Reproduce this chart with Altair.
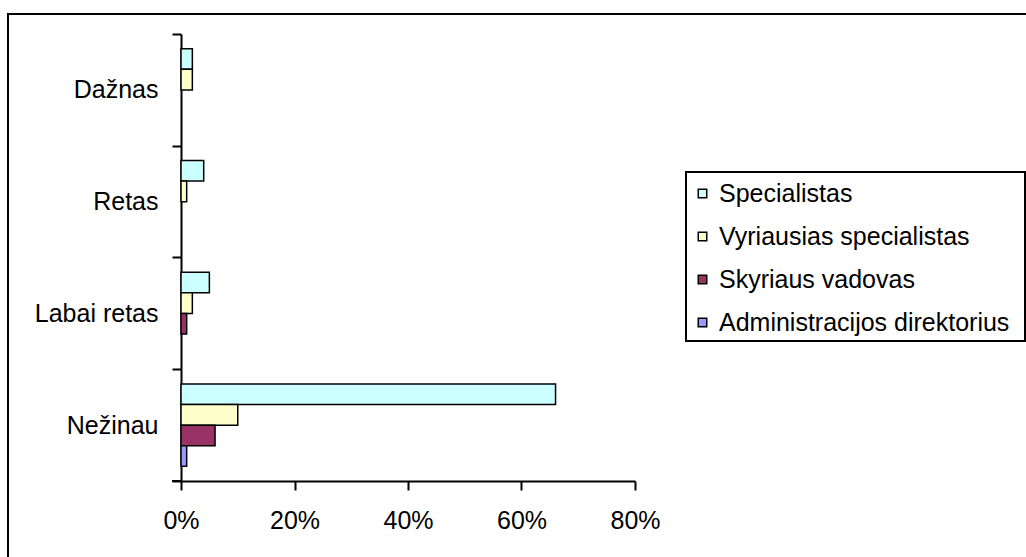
import altair as alt
import pandas as pd

# Answer categories (top to bottom) and respondent groups
categories = ["Dažnas", "Retas", "Labai retas", "Nežinau"]
series = [
    "Specialistas",
    "Vyriausias specialistas",
    "Skyriaus vadovas",
    "Administracijos direktorius",
]
colors = ["#CCFFFF", "#FFFFCC", "#993366", "#9999FF"]

# Share of answers in percent, listed in category order
specialistas = [2, 4, 5, 66]
vyriausias_specialistas = [2, 1, 2, 10]
skyriaus_vadovas = [0, 0, 1, 6]
administracijos_direktorius = [0, 0, 0, 1]

x_ticks = [0, 0.2, 0.4, 0.6, 0.8]

rows = []
for name, vals in zip(
    series,
    [specialistas, vyriausias_specialistas, skyriaus_vadovas, administracijos_direktorius],
):
    for cat, v in zip(categories, vals):
        rows.append({"kategorija": cat, "pareigos": name, "dalis": v / 100})
df = pd.DataFrame(rows)

W, H = 454, 447
FONT = "Liberation Sans"

bars = (
    alt.Chart(df)
    .transform_filter("datum.dalis > 0")
    .mark_bar(stroke="black", strokeWidth=1.5)
    .encode(
        x=alt.X(
            "dalis:Q",
            scale=alt.Scale(domain=[0, 0.8], nice=False, zero=True),
            axis=alt.Axis(
                values=x_ticks,
                format="%",
                title=None,
                grid=False,
                tickSize=9,
                tickWidth=2,
                tickColor="black",
                domainWidth=2,
                domainColor="black",
                labelFont=FONT,
                labelFontSize=25,
                labelColor="black",
                labelPadding=18,
                labelFlush=False,
            ),
        ),
        # near-full-width category bands: the band edges become the tick positions
        y=alt.Y(
            "kategorija:N",
            sort=categories,
            scale=alt.Scale(domain=categories, paddingInner=0.002, paddingOuter=0.001),
            axis=alt.Axis(
                title=None,
                tickBand="extent",
                tickSize=9,
                tickWidth=2,
                tickColor="black",
                domainWidth=2,
                domainColor="black",
                labelFont=FONT,
                labelFontSize=25,
                labelColor="black",
                labelPadding=14,
            ),
        ),
        # the gap around each group of bars comes from the offset scale
        yOffset=alt.YOffset(
            "pareigos:N",
            sort=series,
            scale=alt.Scale(domain=series, paddingInner=0, paddingOuter=0.72),
        ),
        fill=alt.Fill(
            "pareigos:N",
            sort=series,
            scale=alt.Scale(domain=series, range=colors),
            legend=alt.Legend(
                title=None,
                orient="none",
                legendX=509,
                legendY=147,
                padding=0,
                symbolType="square",
                symbolSize=72,
                symbolStrokeColor="black",
                symbolStrokeWidth=1.5,
                labelFont=FONT,
                labelFontSize=25,
                labelColor="black",
                labelOffset=4,
                labelLimit=0,
                rowPadding=17,
            ),
        ),
    )
)

# Outer chart border and the legend box
frame = (
    alt.Chart(alt.Data(values=[{}]))
    .mark_rect(fill="white", fillOpacity=0, stroke="black", strokeWidth=2)
    .encode(x=alt.value(-173), x2=alt.value(849), y=alt.value(-20), y2=alt.value(526))
)
legend_box = (
    alt.Chart(alt.Data(values=[{}]))
    .mark_rect(fill="white", fillOpacity=0, stroke="black", strokeWidth=2)
    .encode(x=alt.value(505), x2=alt.value(844), y=alt.value(138), y2=alt.value(307))
)
# Category axis line continues a tick's length past the value axis origin
axis_stub = (
    alt.Chart(alt.Data(values=[{}]))
    .mark_rule(stroke="black", strokeWidth=2)
    .encode(x=alt.value(-9), x2=alt.value(0), y=alt.value(H))
)

chart = (
    alt.layer(frame, legend_box, bars, axis_stub)
    .properties(
        width=W,
        height=H,
        autosize=alt.AutoSizeParams(type="none"),
        padding={"left": 181, "top": 34, "right": 391, "bottom": 76},
        background="white",
    )
    .configure_view(strokeWidth=0)
)

chart.save("out.html", embed_options={"renderer": "svg", "actions": False})
